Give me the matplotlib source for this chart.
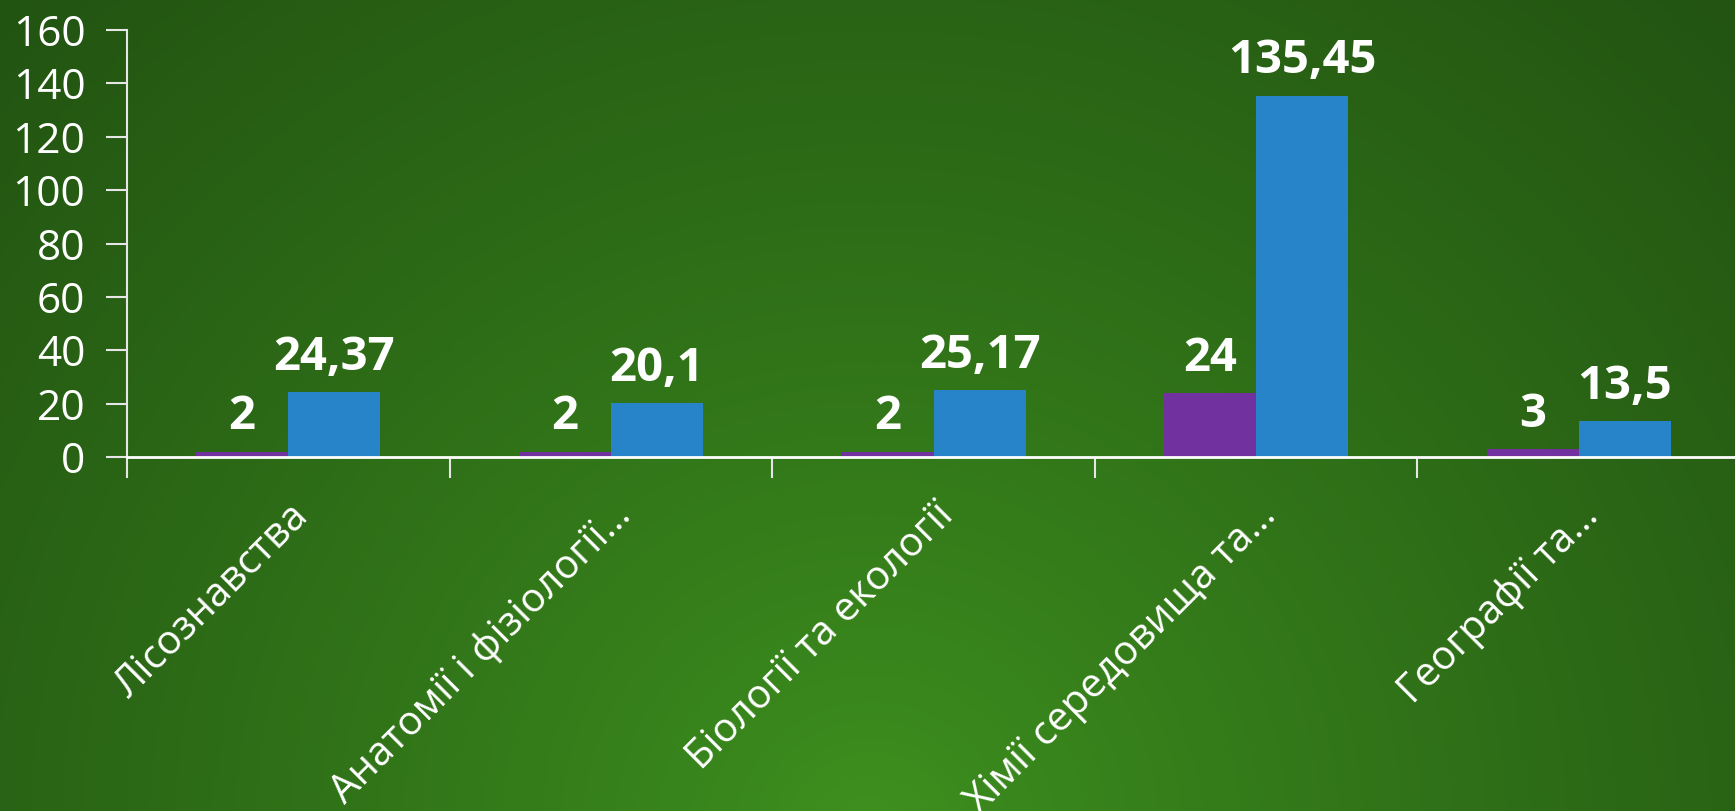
import numpy as np
import matplotlib
matplotlib.use("Agg")
import matplotlib.pyplot as plt
from matplotlib.colors import LinearSegmentedColormap

# chart data
categories = [
    "Лісознавства",
    "Анатомії і фізіології…",
    "Біології та екології",
    "Хімії середовища та…",
    "Географії та…",
]
series_a = [2, 2, 2, 24, 3]
series_b = [24.37, 20.1, 25.17, 135.45, 13.5]
y_ticks = [0, 20, 40, 60, 80, 100, 120, 140, 160]

PURPLE = "#7132A0"
BLUE = "#2784C8"
AXIS = "#E6E6E6"
FONT = "Open Sans"


def fmt(v):
    s = f"{v:g}"
    return s.replace(".", ",")


W, H, DPI = 1735, 811, 100
fig = plt.figure(figsize=(W / DPI, H / DPI), dpi=DPI)

# radial green background, brightest at bottom centre
bg = fig.add_axes([0, 0, 1, 1])
bg.set_axis_off()
yy, xx = np.mgrid[0:H, 0:W]
d = np.sqrt((xx - 870) ** 2 + ((yy - 830) * 1.05) ** 2)
t = np.clip(d / 1200, 0, 1) ** 0.85
cmap = LinearSegmentedColormap.from_list("g", ["#3e911f", "#235512"])
bg.imshow(t, cmap=cmap, vmin=0, vmax=1, aspect="auto",
          extent=[0, 1, 0, 1], origin="upper")
bg.set_xlim(0, 1)
bg.set_ylim(0, 1)

ax = fig.add_axes([127 / W, 1 - 457 / H, (1740 - 127) / W, (457 - 30) / H])
ax.patch.set_alpha(0)

x = np.arange(len(categories)) + 0.5
width = 1 / 3.5
bars_a = ax.bar(x - width / 2, series_a, width, color=PURPLE)
bars_b = ax.bar(x + width / 2, series_b, width, color=BLUE)

for bars, vals in ((bars_a, series_a), (bars_b, series_b)):
    for rect, v in zip(bars, vals):
        ax.annotate(fmt(v), (rect.get_x() + rect.get_width() / 2, v),
                    xytext=(0, 25), textcoords="offset points",
                    ha="center", va="center", color="white",
                    fontsize=34, fontweight="bold", family=FONT)

ax.set_xlim(0, len(categories))
ax.set_ylim(0, 160)
ax.set_yticks(y_ticks)
ax.set_yticklabels([str(v) for v in y_ticks], family=FONT, fontsize=30.5,
                   color="white")

# category boundaries as ticks, names at centres
ax.set_xticks(np.arange(len(categories)))
ax.set_xticklabels([])
ax.set_xticks(x, minor=True)
ax.set_xticklabels(categories, minor=True, rotation=45, ha="right",
                   rotation_mode="anchor", family=FONT, fontsize=29,
                   color="white")
ax.tick_params(axis="x", which="minor", length=0, pad=28)
ax.tick_params(axis="x", which="major", length=15, width=1.5, color=AXIS)
ax.tick_params(axis="y", length=15, width=1.5, color=AXIS, pad=15)

for side in ("top", "right"):
    ax.spines[side].set_visible(False)
ax.spines["left"].set_color(AXIS)
ax.spines["bottom"].set_color("white")
ax.spines["left"].set_linewidth(1.5)
ax.spines["bottom"].set_linewidth(2)

fig.savefig("out.png", dpi=DPI)
